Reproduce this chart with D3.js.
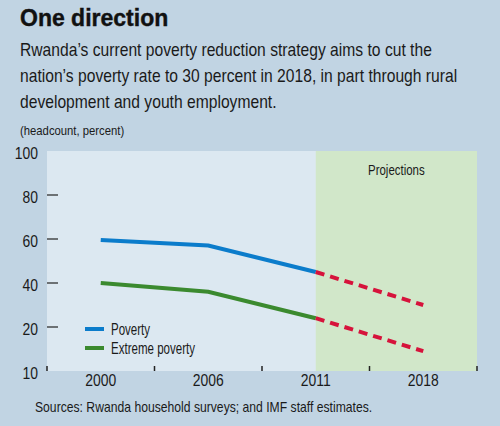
<!DOCTYPE html>
<html>
<head>
<meta charset="utf-8">
<script src="https://cdn.jsdelivr.net/npm/d3@7"></script>
<style>
  body { margin: 0; background: #c1d4e3; }
  svg { display: block; }
  .narrow { font-family: "Liberation Sans", Arial, sans-serif; }
</style>
</head>
<body>
<svg width="500" height="426"></svg>
<script>
// data
let years = ["2000", "2006", "2011", "2018"]
let poverty = [59.5, 57, 45, 30]
let extremePoverty = [40, 36, 24, 9]
let yTickValues = [0, 20, 40, 60, 80, 100]
let yTickLabels = ["10", "20", "40", "60", "80", "100"]  // bottom label reads 10 in the original
let projectionStart = "2011"

let svg = d3.select("svg")

const plot = { left: 47, right: 477, top: 151, bottom: 371 }

// background
svg.append("rect")
    .attr("width", 500)
    .attr("height", 426)
    .attr("fill", "#c1d4e3")

// title and subtitle
svg.append("text")
    .attr("x", 20)
    .attr("y", 26)
    .style("font-family", "'Liberation Sans', Arial, sans-serif")
    .style("font-weight", "bold")
    .style("font-size", "23px")
    .style("stroke", "#111")
    .style("stroke-width", 0.4)
    .attr("fill", "#111")
    .text("One direction")

let subtitle = [
    "Rwanda\u2019s current poverty reduction strategy aims to cut the",
    "nation\u2019s poverty rate to 30 percent in 2018, in part through rural",
    "development and youth employment."
]
let subLines = svg.append("g")
    .selectAll("text")
    .data(subtitle)
    .join("text")
    .attr("class", "narrow")
    .attr("x", 20)
    .attr("y", (d, i) => 56 + i * 26)
    .style("font-size", "18px")
    .attr("fill", "#1a1a1a")
    .text(d => d)

// the original uses a condensed face; squeeze a regular one to the same width
let squeeze = 412 / subLines.node().getComputedTextLength()

svg.append("text")
    .attr("class", "narrow")
    .attr("x", 20)
    .attr("y", 135)
    .style("font-size", "13px")
    .attr("fill", "#1a1a1a")
    .text("(headcount, percent)")

// scales
let xBand = d3.scaleBand()
    .domain(years)
    .range([plot.left, plot.right])
    .padding(0)
let xCenter = d => xBand(d) + xBand.bandwidth() / 2

let yScale = d3.scaleLinear()
    .domain([0, 100])
    .range([plot.bottom, plot.top])

// plot backgrounds
svg.append("rect")
    .attr("x", plot.left)
    .attr("y", plot.top)
    .attr("width", plot.right - plot.left)
    .attr("height", plot.bottom - plot.top)
    .attr("fill", "#dce8f1")

svg.append("rect")
    .attr("x", xCenter(projectionStart))
    .attr("y", plot.top)
    .attr("width", plot.right - xCenter(projectionStart))
    .attr("height", plot.bottom - plot.top)
    .attr("fill", "#d1e7c9")

svg.append("text")
    .attr("class", "narrow")
    .attr("data-extra", 0.88)
    .attr("x", (xCenter(projectionStart) + plot.right) / 2)
    .attr("y", 175)
    .attr("text-anchor", "middle")
    .style("font-size", "15px")
    .attr("fill", "#1a1a1a")
    .text("Projections")

// y axis labels
let yAxis = svg.append("g")
    .attr("transform", `translate(${plot.left - 6},2)`)
    .call(d3.axisLeft(yScale)
        .tickValues(yTickValues)
        .tickSize(0)
        .tickFormat((d, i) => yTickLabels[i]))
yAxis.select(".domain").remove()
yAxis.selectAll("text")
    .attr("class", "narrow")
    .style("font-size", "16px")
    .attr("fill", "#1a1a1a")

// y tick marks inside the plot
svg.append("g")
    .selectAll("line")
    .data(yTickValues.filter(d => d > 0 && d < 100))
    .join("line")
    .attr("x1", plot.left)
    .attr("x2", plot.left + 11)
    .attr("y1", d => yScale(d))
    .attr("y2", d => yScale(d))
    .attr("stroke", "#222")
    .attr("stroke-width", 1.2)

// x axis: labels at band centers, ticks at band edges
let xAxis = svg.append("g")
    .attr("transform", `translate(0,${plot.bottom})`)
    .call(d3.axisBottom(xBand).tickSize(0).tickPadding(4))
xAxis.select(".domain").remove()
xAxis.selectAll("text")
    .attr("class", "narrow")
    .style("font-size", "16px")
    .attr("fill", "#1a1a1a")

let edges = years.map(d => xBand(d)).concat([plot.right])
svg.append("g")
    .selectAll("line")
    .data(edges)
    .join("line")
    .attr("x1", d => d)
    .attr("x2", d => d)
    .attr("y1", plot.bottom - 5)
    .attr("y2", plot.bottom)
    .attr("stroke", "#222")
    .attr("stroke-width", 1.5)

// lines
let line = d3.line()
    .x(d => xCenter(d[0]))
    .y(d => yScale(d[1]))

let split = years.indexOf(projectionStart)
let series = [
    { values: poverty, color: "#0b7ccb" },
    { values: extremePoverty, color: "#3b8a2f" }
]

series.forEach(s => {
    let pts = years.map((y, i) => [y, s.values[i]])
    svg.append("path")
        .attr("d", line(pts.slice(0, split + 1)))
        .attr("fill", "none")
        .attr("stroke", s.color)
        .attr("stroke-width", 4)
    svg.append("path")
        .attr("d", line(pts.slice(split)))
        .attr("fill", "none")
        .attr("stroke", "#d6133b")
        .attr("stroke-width", 4)
        .attr("stroke-dasharray", "9,6")
})

// legend
let legend = svg.append("g")
legend.selectAll("line")
    .data(series)
    .join("line")
    .attr("x1", 85)
    .attr("x2", 104)
    .attr("y1", (d, i) => 329 + i * 19)
    .attr("y2", (d, i) => 329 + i * 19)
    .attr("stroke", d => d.color)
    .attr("stroke-width", 4)
legend.selectAll("text")
    .data(["Poverty", "Extreme poverty"])
    .join("text")
    .attr("class", "narrow")
    .attr("data-extra", 0.83)
    .attr("x", 111)
    .attr("y", (d, i) => 335 + i * 19)
    .style("font-size", "16px")
    .attr("fill", "#1a1a1a")
    .text(d => d)

// source note
svg.append("text")
    .attr("class", "narrow")
    .attr("x", 35)
    .attr("y", 412)
    .style("font-size", "14px")
    .attr("fill", "#1a1a1a")
    .text("Sources: Rwanda household surveys; and IMF staff estimates.")

// apply the horizontal squeeze around each text's own anchor x
svg.selectAll("text.narrow").each(function () {
    let x = +(this.getAttribute("x") || 0)
    let k = squeeze * +(this.getAttribute("data-extra") || 1)
    d3.select(this).attr("transform", `translate(${x},0) scale(${k},1) translate(${-x},0)`)
})
</script>
</body>
</html>
